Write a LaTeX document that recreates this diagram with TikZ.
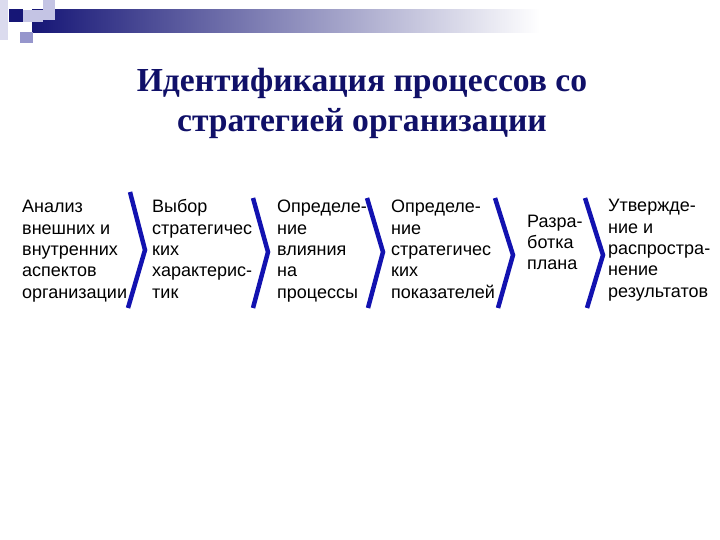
\documentclass[tikz,border=0pt]{standalone}
\usepackage{fontspec}
\setmainfont{Liberation Sans}
\newfontfamily\titlefont{Liberation Serif}
\definecolor{navytitle}{RGB}{16,16,104}
\definecolor{chevblue}{RGB}{18,18,176}
\definecolor{barnavy}{RGB}{22,22,118}
\definecolor{sqlight}{RGB}{196,196,228}
\definecolor{sqmid}{RGB}{150,150,204}
\tikzset{
  steptext/.style={anchor=base west,inner sep=0pt,align=left,
    font=\fontsize{18bp}{21.3bp}\selectfont},
  chevron/.style={chevblue,line width=4.5bp,line join=miter}
}
\begin{document}
\begin{tikzpicture}[x=1bp,y=-1bp]
 \useasboundingbox[fill=white] (0,0) rectangle (720,540);
 % header bar and squares
 \shade[left color=barnavy,right color=white] (32,10) rectangle (540,33);
 \fill[sqlight,opacity=0.6] (0,0) rectangle (8,40);
 \fill[sqlight] (43,0) rectangle (55,20);
 \fill[sqlight] (22,10) rectangle (43,22);
 \fill[barnavy] (9,9) rectangle (23,22);
 \fill[sqmid] (20,32) rectangle (33,43);
 % title (anchor base = last line)
 \node[font=\titlefont\bfseries\fontsize{33.6bp}{40bp}\selectfont,text=navytitle,
   align=center,anchor=base] (title) at (362,132)
   {Идентификация процессов со\\стратегией организации};
 % steps (anchor base = last line)
 \node[steptext] (analiz) at (22,298) {Анализ\\внешних и\\внутренних\\аспектов\\организации};
 \node[steptext] (vybor) at (152,298) {Выбор\\стратегичес\\ких\\характерис-\\тик};
 \node[steptext] (vliyanie) at (277,298) {Определе-\\ние\\влияния\\на\\процессы};
 \node[steptext] (pokaz) at (391,298) {Определе-\\ние\\стратегичес\\ких\\показателей};
 \node[steptext] (plan) at (527,270) {Разра-\\ботка\\плана};
 \node[steptext] (utv) at (608,297) {Утвержде-\\ние и\\распростра-\\нение\\результатов};
 % chevrons
 \draw[chevron] (130,192)--(145,250)--(128,308);
 \draw[chevron] (253,198)--(268,252)--(253,308);
 \draw[chevron] (367,198)--(383,252)--(368,308);
 \draw[chevron] (495,198)--(513,255)--(498,308);
 \draw[chevron] (585,198)--(603,255)--(587,308);
\end{tikzpicture}
\end{document}
